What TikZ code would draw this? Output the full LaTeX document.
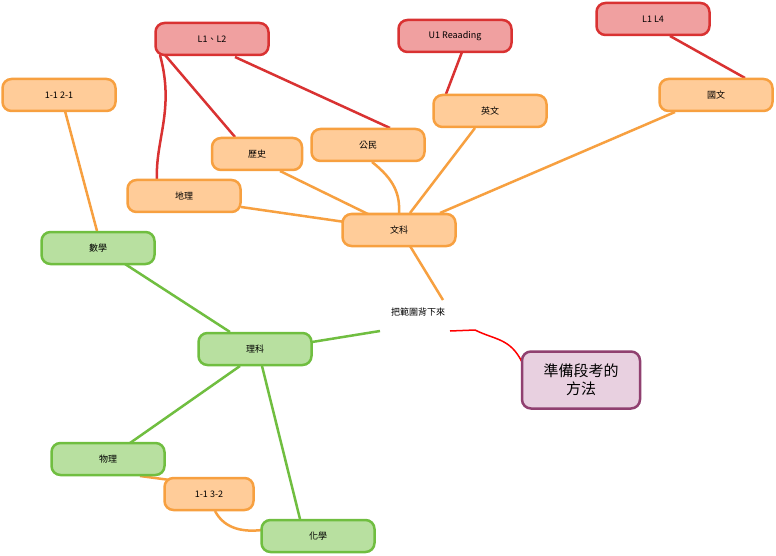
\documentclass[tikz,border=0pt]{standalone}
\usepackage{fontspec}
\setmainfont{Noto Sans CJK TC}
\begin{document}
\begin{tikzpicture}[x=1pt,y=-1pt,
 box/.style={rounded corners=9pt,line width=2.5pt,minimum height=32pt,font=\fontsize{9}{11}\selectfont,inner sep=2pt},
 rbox/.style={box,draw={rgb,255:red,217;green,50;blue,50},fill={rgb,255:red,240;green,160;blue,160},minimum width=113pt},
 obox/.style={box,draw={rgb,255:red,247;green,160;blue,64},fill={rgb,255:red,255;green,204;blue,153},minimum width=113pt},
 gbox/.style={box,draw={rgb,255:red,112;green,190;blue,64},fill={rgb,255:red,184;green,224;blue,160},minimum width=113pt},
 rl/.style={draw={rgb,255:red,217;green,50;blue,50},line width=2.5pt},
 ol/.style={draw={rgb,255:red,247;green,160;blue,64},line width=2.5pt},
 gl/.style={draw={rgb,255:red,112;green,190;blue,64},line width=2.5pt}]
\useasboundingbox (0,0) rectangle (776,556);
\fill[white] (0,0) rectangle (776,556);
% edges first
\coordinate (c) at (418,312);
\draw[rl] (160,55) .. controls (175,110) and (155,140) .. (157,180);
\draw[rl] (165,55) -- (235,137);
\draw[rl] (235,57) -- (390,128);
\draw[rl] (462,52) -- (446,94);
\draw[rl] (670,36) -- (745,78);
\draw[ol] (65,111) -- (97,231);
\draw[ol] (280,171) -- (370,215);
\draw[ol] (241,207) -- (345,222);
\draw[ol] (372,162) .. controls (395,180) and (400,195) .. (399,213);
\draw[ol] (475,128) -- (410,213);
\draw[ol] (675,112) -- (440,213);
\draw[ol] (410,246) -- (443,300);
\draw[gl] (125,264) -- (230,332);
\draw[gl] (312,342) -- (380,331);
\draw[gl] (240,366) -- (130,443);
\draw[gl] (262,366) -- (300,519);
\draw[ol] (140,476) -- (170,480);
\draw[ol] (215,511) .. controls (225,530) and (245,532) .. (262,530);
\draw[red,line width=1.5pt] (450,331) -- (475,330) .. controls (495,340) and (510,338) .. (522,362);
% nodes
\node[rbox] (l12) at (212,39) {L1、L2};
\node[rbox] (u1) at (455,36) {U1~Reaading};
\node[rbox] (l14) at (653,19) {L1~L4};
\node[obox] (m21) at (59,95) {1-1~2-1};
\node[obox] (en) at (490,111) {英文};
\node[obox] (gw) at (716,95) {國文};
\node[obox] (gm) at (368,145) {公民};
\node[obox,minimum width=90pt] (ls) at (257,154) {歷史};
\node[obox] (dl) at (184,196) {地理};
\node[obox] (wk) at (399,230) {文科};
\node[gbox] (sx) at (98,248) {數學};
\node[font=\fontsize{9}{11}\selectfont] (bf) at (418,312) {把範圍背下來};
\node[gbox] (lk) at (255,349) {理科};
\node[box,draw={rgb,255:red,144;green,64;blue,112},fill={rgb,255:red,232;green,208;blue,224},minimum width=118pt,minimum height=57pt,font=\fontsize{15}{18}\selectfont,align=center] (zb) at (581,380) {準備段考的\\方法};
\node[gbox] (wl) at (108,459) {物理};
\node[obox,minimum width=89pt] (m32) at (209,494) {1-1~3-2};
\node[gbox] (hx) at (318,536) {化學};
\end{tikzpicture}
\end{document}
